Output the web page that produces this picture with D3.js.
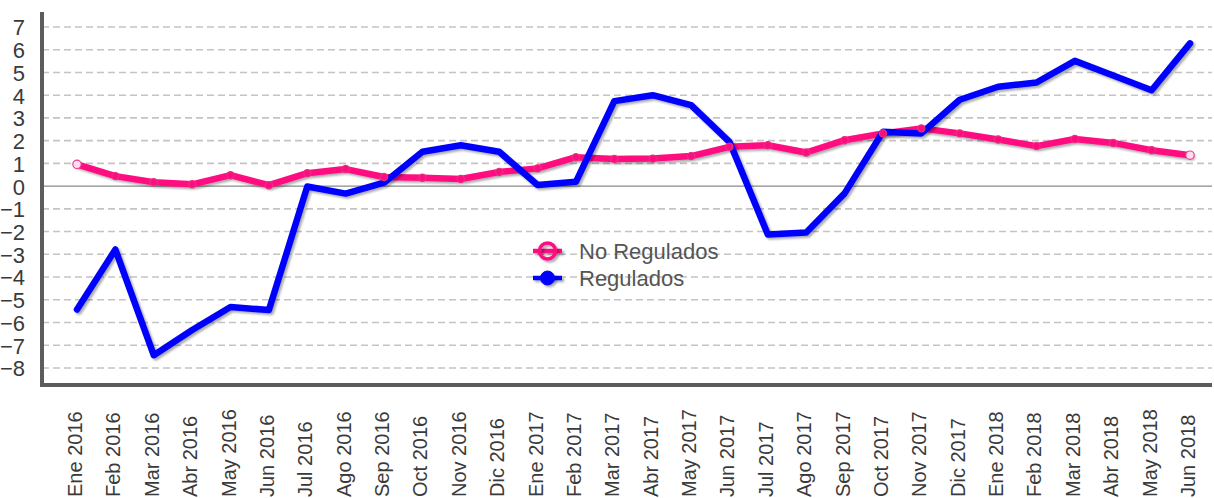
<!DOCTYPE html>
<html>
<head>
<meta charset="utf-8">
<script src="https://cdn.jsdelivr.net/npm/d3@7"></script>
<style>
  html, body { margin: 0; padding: 0; background: #fff; }
  svg { display: block; font-family: "Liberation Sans", Arial, sans-serif; }
</style>
</head>
<body>
<svg id="chart" width="1214" height="498"></svg>
<script>
// Monthly categories, Jan 2016 – Jun 2018
const months = [
  "Ene 2016","Feb 2016","Mar 2016","Abr 2016","May 2016","Jun 2016",
  "Jul 2016","Ago 2016","Sep 2016","Oct 2016","Nov 2016","Dic 2016",
  "Ene 2017","Feb 2017","Mar 2017","Abr 2017","May 2017","Jun 2017",
  "Jul 2017","Ago 2017","Sep 2017","Oct 2017","Nov 2017","Dic 2017",
  "Ene 2018","Feb 2018","Mar 2018","Abr 2018","May 2018","Jun 2018"
];

// Non-regulated prices
const noRegulados = [
  0.96, 0.44, 0.17, 0.08, 0.48, 0.04,
  0.57, 0.75, 0.40, 0.37, 0.31, 0.62,
  0.78, 1.27, 1.19, 1.21, 1.32, 1.73,
  1.80, 1.48, 2.02, 2.32, 2.54, 2.32,
  2.05, 1.76, 2.07, 1.90, 1.58, 1.36
];

// Regulated prices
const regulados = [
  -5.43, -2.79, -7.44, -6.33, -5.32, -5.45,
  -0.02, -0.33, 0.15, 1.51, 1.80, 1.51,
  0.05, 0.19, 3.74, 4.00, 3.56, 1.95,
  -2.13, -2.04, -0.32, 2.39, 2.32, 3.80,
  4.37, 4.56, 5.51, 4.87, 4.22, 6.28
];

const yTicks = [7, 6, 5, 4, 3, 2, 1, 0, -1, -2, -3, -4, -5, -6, -7, -8];

const seriesNames = ["No Regulados", "Regulados"];
const pink = "#ff0a80";
const blue = "#0000ff";

const svg = d3.select("#chart");

const x = d3.scalePoint().domain(months).range([77, 1190]);
const y = d3.scaleLinear().domain([-8.75, 7.66]).range([385, 12]);

const plotLeft = 42, plotRight = 1212;

// drop shadow under the series lines
const defs = svg.append("defs");
const f = defs.append("filter").attr("id", "shadow")
  .attr("filterUnits", "userSpaceOnUse")
  .attr("x", -1300).attr("y", -700).attr("width", 2600).attr("height", 1400);
f.append("feDropShadow")
  .attr("dx", 2).attr("dy", 2).attr("stdDeviation", 0.9)
  .attr("flood-color", "#000").attr("flood-opacity", 0.33);

// horizontal grid
svg.append("g").selectAll("line")
  .data(yTicks.filter(d => d !== 0))
  .join("line")
  .attr("x1", plotLeft).attr("x2", plotRight)
  .attr("y1", d => y(d)).attr("y2", d => y(d))
  .attr("stroke", "#c4c4c4")
  .attr("stroke-width", 1.6)
  .attr("stroke-dasharray", "7,4");

// zero line
svg.append("line")
  .attr("x1", plotLeft).attr("x2", plotRight)
  .attr("y1", y(0)).attr("y2", y(0))
  .attr("stroke", "#8a8a8a").attr("stroke-width", 1.4);

// y axis labels
const yAxis = d3.axisLeft(y).tickValues(yTicks).tickSize(0).tickFormat(d3.format("d"));
const gy = svg.append("g").attr("transform", `translate(${plotLeft},0)`).call(yAxis);
gy.select(".domain").remove();
gy.selectAll("text")
  .attr("x", -17)
  .attr("dy", "0.36em")
  .attr("fill", "#3a3a3a")
  .style("font-size", "22px")
  .style("font-family", "'Liberation Sans', Arial, sans-serif");

// axis frame
svg.append("line")
  .attr("x1", plotLeft).attr("x2", plotLeft)
  .attr("y1", 12).attr("y2", 387)
  .attr("stroke", "#5c5c5c").attr("stroke-width", 4);
svg.append("line")
  .attr("x1", plotLeft - 2).attr("x2", plotRight)
  .attr("y1", 385).attr("y2", 385)
  .attr("stroke", "#5c5c5c").attr("stroke-width", 4);

// x labels, rotated
const xAxis = d3.axisBottom(x).tickSize(0);
const gx = svg.append("g").call(xAxis);
gx.select(".domain").remove();
gx.selectAll(".tick").attr("transform", d => `translate(${x(d) + 5},497)`);
gx.selectAll("text")
  .attr("transform", "rotate(-90)")
  .attr("x", 0).attr("y", 0).attr("dy", 0)
  .attr("text-anchor", "start")
  .attr("fill", "#3a3a3a")
  .style("font-size", "20px")
  .style("font-family", "'Liberation Sans', Arial, sans-serif");

const line = d3.line().x((d, i) => x(months[i])).y(d => y(d));

// non-regulated series
svg.append("path")
  .datum(noRegulados)
  .attr("d", line)
  .attr("fill", "none")
  .attr("stroke", pink)
  .attr("stroke-width", 6.5)
  .attr("stroke-linejoin", "round")
  .attr("stroke-linecap", "round")
  .attr("filter", "url(#shadow)");

// regulated series
svg.append("path")
  .datum(regulados)
  .attr("d", line)
  .attr("fill", "none")
  .attr("stroke", blue)
  .attr("stroke-width", 6.5)
  .attr("stroke-linejoin", "round")
  .attr("stroke-linecap", "round")
  .attr("filter", "url(#shadow)");

// point markers on the non-regulated series
const last = noRegulados.length - 1;
svg.append("g").selectAll("circle")
  .data(noRegulados)
  .join("circle")
  .attr("cx", (d, i) => x(months[i]))
  .attr("cy", d => y(d))
  .attr("r", (d, i) => (i === 0 || i === last) ? 4.2 : 3.6)
  .attr("fill", (d, i) => (i === 0 || i === last) ? "#fde" : pink)
  .attr("stroke", (d, i) => (i === 0 || i === last) ? "#e8408f" : "#e6337f")
  .attr("stroke-width", 1.2);

// legend
const legend = svg.append("g").attr("transform", "translate(533,251)");
const items = legend.selectAll("g").data(seriesNames).join("g")
  .attr("transform", (d, i) => `translate(0,${i * 27})`);
items.append("line")
  .attr("x1", 0).attr("x2", 29).attr("y1", 0).attr("y2", 0)
  .attr("stroke", (d, i) => i === 0 ? pink : blue)
  .attr("stroke-width", 4.5)
  .attr("filter", "url(#shadow)");
items.append("circle")
  .attr("cx", 14.5).attr("cy", 0)
  .attr("r", (d, i) => i === 0 ? 8 : 7)
  .attr("fill", (d, i) => i === 0 ? "none" : blue)
  .attr("stroke", (d, i) => i === 0 ? pink : blue)
  .attr("stroke-width", (d, i) => i === 0 ? 3.5 : 1)
  .attr("filter", "url(#shadow)");
items.append("text")
  .attr("x", 46).attr("y", 0).attr("dy", "0.36em")
  .attr("fill", "#555")
  .style("font-size", "22px")
  .text(d => d);
</script>
</body>
</html>
